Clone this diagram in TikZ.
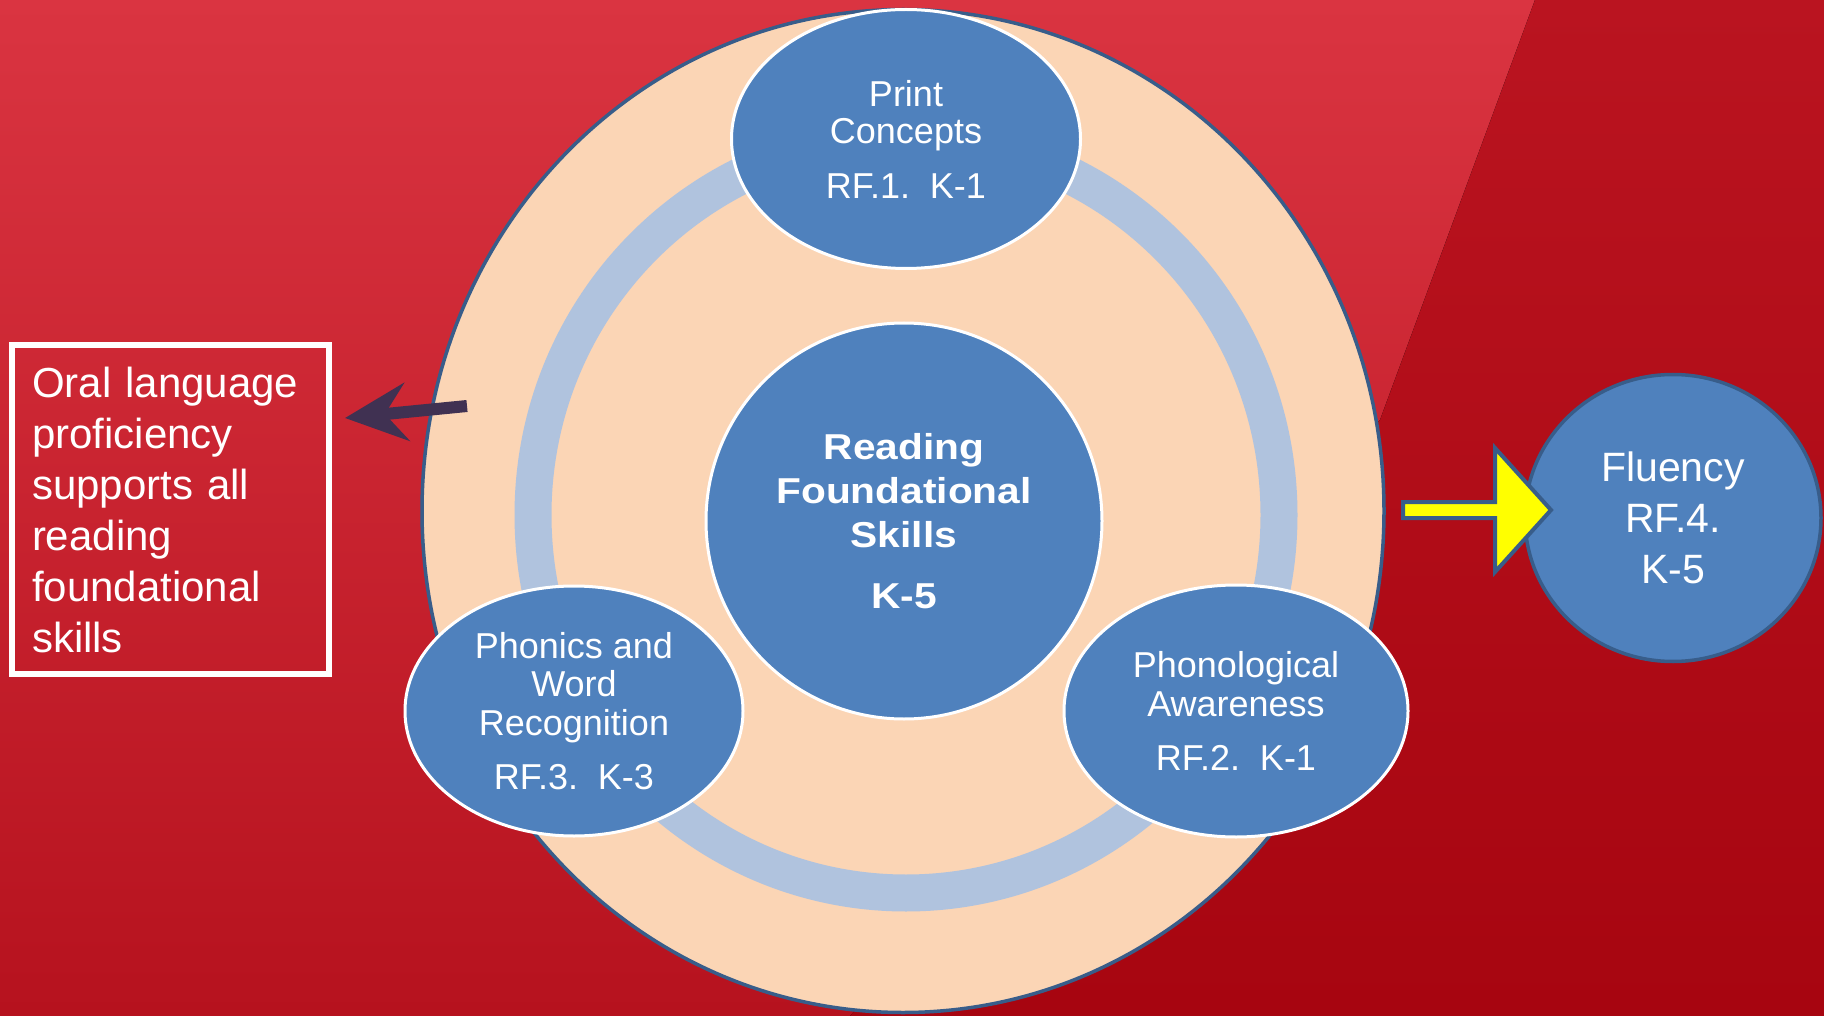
\documentclass[tikz,border=0pt]{standalone}
\usepackage{fontspec}
\setmainfont{Liberation Sans}
\newfontfamily\widefont[FakeStretch=1.13]{Liberation Sans}
\usetikzlibrary{shapes.geometric,arrows.meta,calc}
\definecolor{nodeblue}{HTML}{4F81BD}
\definecolor{edgeblue}{HTML}{385D8A}
\definecolor{beige}{HTML}{FBD5B5}
\definecolor{ringblue}{HTML}{B0C3DE}
\definecolor{arrowpurple}{HTML}{403152}
\definecolor{redtl}{HTML}{DA3441}
\definecolor{redbl}{HTML}{B6121E}
\definecolor{redtr}{HTML}{BA1420}
\definecolor{redbr}{HTML}{A70510}
\definecolor{arrowyellow}{HTML}{FFFF00}
\tikzset{
  skill/.style={ellipse, fill=nodeblue, draw=white, line width=3pt, inner sep=0pt,
    text=white, align=center},
  oralbox/.style={rectangle, draw=white, line width=6pt, text=white, align=left,
    minimum width=317pt, minimum height=329pt, text width=277pt, inner xsep=20pt, inner ysep=0pt,
    font=\fontsize{42}{51}\selectfont},
  yarrow/.style={draw=edgeblue, fill=arrowyellow, line width=4pt, line join=miter},
  darrow/.style={draw=arrowpurple, line width=12pt,
    -{Stealth[length=62pt, width=58pt, inset=22pt]}}
}
\begin{document}
\begin{tikzpicture}[x=1pt,y=-1pt]
\useasboundingbox (0,0) rectangle (1824,1016);
% background
\fill[top color=redtl, bottom color=redbl] (0,0) rectangle (1824,1016);
\fill[top color=redtr, bottom color=redbr] (1535,0) -- (1824,0) -- (1824,1016) -- (850,1016) -- (1380,420) -- cycle;
% big circle
\node[ellipse, fill=beige, draw=edgeblue, line width=3.5pt, minimum width=962pt, minimum height=1003pt, inner sep=0pt] (outer) at (903,511) {};
% ring
\draw[ringblue, line width=37pt] (906,515) ellipse [x radius=373, y radius=378];
% center
\node[skill, circle, minimum size=396pt, font=\widefont\bfseries\fontsize{36}{44}\selectfont] (center) at (904,521)
  {Reading\\Foundational\\Skills\\[17pt]K-5};
% three skills
\node[skill, minimum width=349pt, minimum height=259pt, font=\fontsize{36}{37}\selectfont] (print) at (906,139)
  {Print\\Concepts\\[18pt]RF.1.\ \ K-1};
\node[skill, minimum width=338pt, minimum height=250pt, font=\fontsize{36}{38.5}\selectfont] (phonics) at (574,711)
  {Phonics and\\Word\\Recognition\\[15.5pt]RF.3.\ \ K-3};
\node[skill, minimum width=344pt, minimum height=252pt, font=\fontsize{36}{39}\selectfont] (phono) at (1236,711)
  {Phonological\\Awareness\\[15pt]RF.2.\ \ K-1};
% oral language box
\node[oralbox] (oral) at (170.5,509.5)
  {Oral language\\proficiency\\supports all\\reading\\foundational\\skills};
\coordinate (oralsrc) at (467,406);
\coordinate (oraltip) at (345,418);
\draw[darrow] (oralsrc) -- (oraltip);
% fluency
\node[ellipse, fill=nodeblue, draw=edgeblue, line width=3.5pt, minimum width=296pt, minimum height=287pt,
  inner sep=0pt, text=white, align=center, font=\fontsize{41}{51}\selectfont] (fluency) at (1673,518)
  {Fluency\\RF.4.\\K-5};
% yellow block arrow
\coordinate (ya) at (1403,510);
\coordinate (yb) at (1551,510);
\draw[yarrow] ($(ya)+(0,-8)$) -- ($(yb)+(-56,-8)$) -- ($(yb)+(-56,-62)$) -- (yb)
  -- ($(yb)+(-56,62)$) -- ($(yb)+(-56,8)$) -- ($(ya)+(0,8)$) -- cycle;
\end{tikzpicture}
\end{document}
